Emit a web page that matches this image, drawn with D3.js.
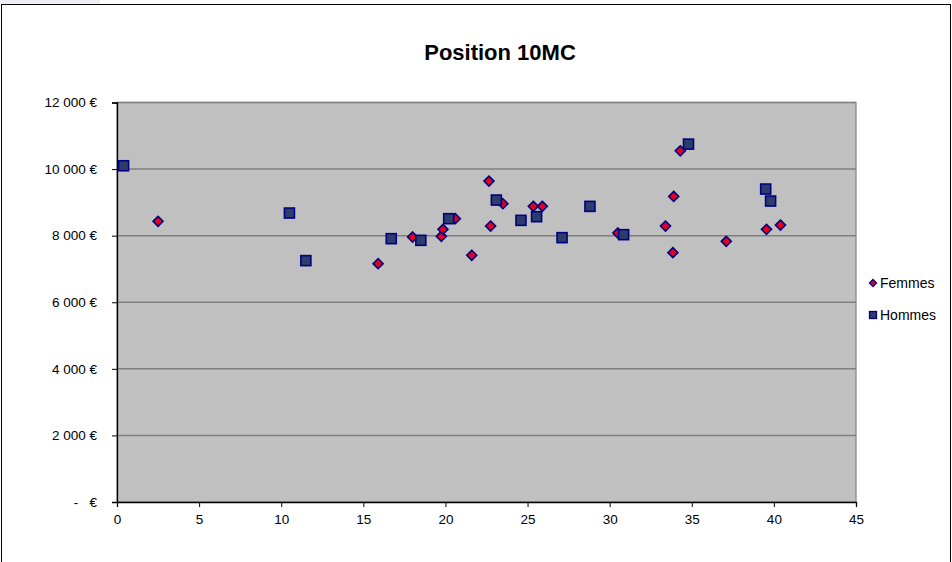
<!DOCTYPE html>
<html>
<head>
<meta charset="utf-8">
<script src="https://cdn.jsdelivr.net/npm/d3@7"></script>
<style>
  body { margin: 0; background: #fff; }
  svg { display: block; font-family: 'Liberation Sans', Arial, sans-serif; }
  .tick-label { white-space: pre; }
</style>
</head>
<body>
<div class="container"></div>
<script>
const title = 'Position 10MC';
const seriesNames = ['Femmes', 'Hommes'];

const femmesX = [2.5, 15.9, 18.0, 19.75, 19.85, 20.6, 21.6, 22.65, 22.75, 23.5, 25.35, 25.9, 30.5, 33.4, 33.9, 33.85, 34.3, 37.1, 39.55, 40.4];
const femmesY = [8430, 7160, 7960, 7980, 8190, 8510, 7410, 9640, 8290, 8960, 8880, 8880, 8080, 8290, 9180, 7490, 10550, 7830, 8190, 8320];

const hommesX = [0.4, 10.5, 11.5, 16.7, 18.5, 20.2, 23.1, 24.6, 25.55, 27.1, 28.8, 30.85, 34.8, 39.5, 39.8];
const hommesY = [10100, 8680, 7250, 7910, 7860, 8510, 9070, 8460, 8570, 7940, 8880, 8030, 10750, 9400, 9040];

const xTicks = [0, 5, 10, 15, 20, 25, 30, 35, 40, 45];
const yTicks = [0, 2000, 4000, 6000, 8000, 10000, 12000];

const width = 952;
const height = 562;
const plot = { left: 117, right: 856, top: 102.5, bottom: 502 };

const svg = d3
  .select('.container')
  .append('svg')
  .attr('width', width)
  .attr('height', height);

// faint band above the frame, top left
svg.append('rect')
  .attr('x', 0).attr('y', 0)
  .attr('width', 100).attr('height', 4)
  .attr('fill', '#eeedf7');

// chart frame
svg.append('rect')
  .attr('x', 1.5).attr('y', 4.5)
  .attr('width', 949).attr('height', 570)
  .attr('fill', '#fff')
  .attr('stroke', '#000')
  .attr('stroke-width', 1);

svg.append('text')
  .attr('x', 500)
  .attr('y', 60)
  .attr('text-anchor', 'middle')
  .attr('font-size', 22)
  .attr('font-weight', 'bold')
  .text(title);

const x = d3.scaleLinear().domain([0, 45]).range([plot.left, plot.right]);
const y = d3.scaleLinear().domain([0, 12000]).range([plot.bottom, plot.top]);

// plot area
svg.append('rect')
  .attr('x', plot.left)
  .attr('y', plot.top)
  .attr('width', plot.right - plot.left)
  .attr('height', plot.bottom - plot.top)
  .attr('fill', '#c0c0c0')
  .attr('stroke', '#808080')
  .attr('stroke-width', 1.2);

// grid
svg.append('g')
  .selectAll('line')
  .data(yTicks.filter(d => d > 0))
  .enter()
  .append('line')
  .attr('x1', plot.left)
  .attr('x2', plot.right)
  .attr('y1', d => y(d))
  .attr('y2', d => y(d))
  .attr('stroke', '#7f7f7f')
  .attr('stroke-width', 1.5);

const fmtEuro = d => d === 0 ? ' -   €' : d3.format(',')(d).replace(',', ' ') + ' €';

// y axis
const yAxis = svg.append('g')
  .attr('transform', `translate(${plot.left}, 0)`)
  .call(d3.axisLeft(y).tickValues(yTicks).tickSize(5).tickPadding(14).tickFormat(fmtEuro));

// x axis
const xAxis = svg.append('g')
  .attr('transform', `translate(0, ${plot.bottom})`)
  .call(d3.axisBottom(x).tickValues(xTicks).tickSize(5).tickPadding(5).tickFormat(d3.format('d')));

[yAxis, xAxis].forEach(a => {
  a.select('.domain').attr('stroke', '#000').attr('stroke-width', 1.3);
  a.selectAll('.tick line').attr('stroke', '#000');
  a.selectAll('.tick text')
    .attr('class', 'tick-label')
    .attr('fill', '#000')
    .attr('font-size', 13.5)
    .attr('font-family', "'Liberation Sans', Arial, sans-serif");
});
yAxis.selectAll('.tick text').attr('x', -20);
xAxis.selectAll('.tick text').attr('y', 12);

const femmes = femmesX.map((v, i) => ({ x: v, y: femmesY[i] }));
const hommes = hommesX.map((v, i) => ({ x: v, y: hommesY[i] }));

const diamond = 'M0,-5L5,0L0,5L-5,0Z';
const redFill = '#e2001d';
const navy = '#000080';
const squareFill = '#2c3d6c';

svg.append('g')
  .selectAll('path')
  .data(femmes)
  .enter()
  .append('path')
  .attr('d', diamond)
  .attr('transform', d => `translate(${x(d.x)}, ${y(d.y)})`)
  .attr('fill', redFill)
  .attr('stroke', navy)
  .attr('stroke-width', 1.6);

svg.append('g')
  .selectAll('rect')
  .data(hommes)
  .enter()
  .append('rect')
  .attr('x', d => x(d.x) - 5)
  .attr('y', d => y(d.y) - 5)
  .attr('width', 10)
  .attr('height', 10)
  .attr('fill', squareFill)
  .attr('stroke', navy)
  .attr('stroke-width', 1.6);

// legend
const legend = svg.append('g').attr('transform', 'translate(873, 283)');
const items = legend.selectAll('g')
  .data(seriesNames)
  .enter()
  .append('g')
  .attr('transform', (d, i) => `translate(0, ${i * 32})`);

items.filter((d, i) => i === 0)
  .append('path')
  .attr('d', 'M0,-3.5L3.5,0L0,3.5L-3.5,0Z')
  .attr('fill', redFill)
  .attr('stroke', navy)
  .attr('stroke-width', 1.3);

items.filter((d, i) => i === 1)
  .append('rect')
  .attr('x', -3.5).attr('y', -3.5)
  .attr('width', 7).attr('height', 7)
  .attr('fill', squareFill)
  .attr('stroke', navy)
  .attr('stroke-width', 1.3);

items.append('text')
  .attr('x', 7)
  .attr('y', 5)
  .attr('font-size', 14)
  .text(d => d);
</script>
</body>
</html>
